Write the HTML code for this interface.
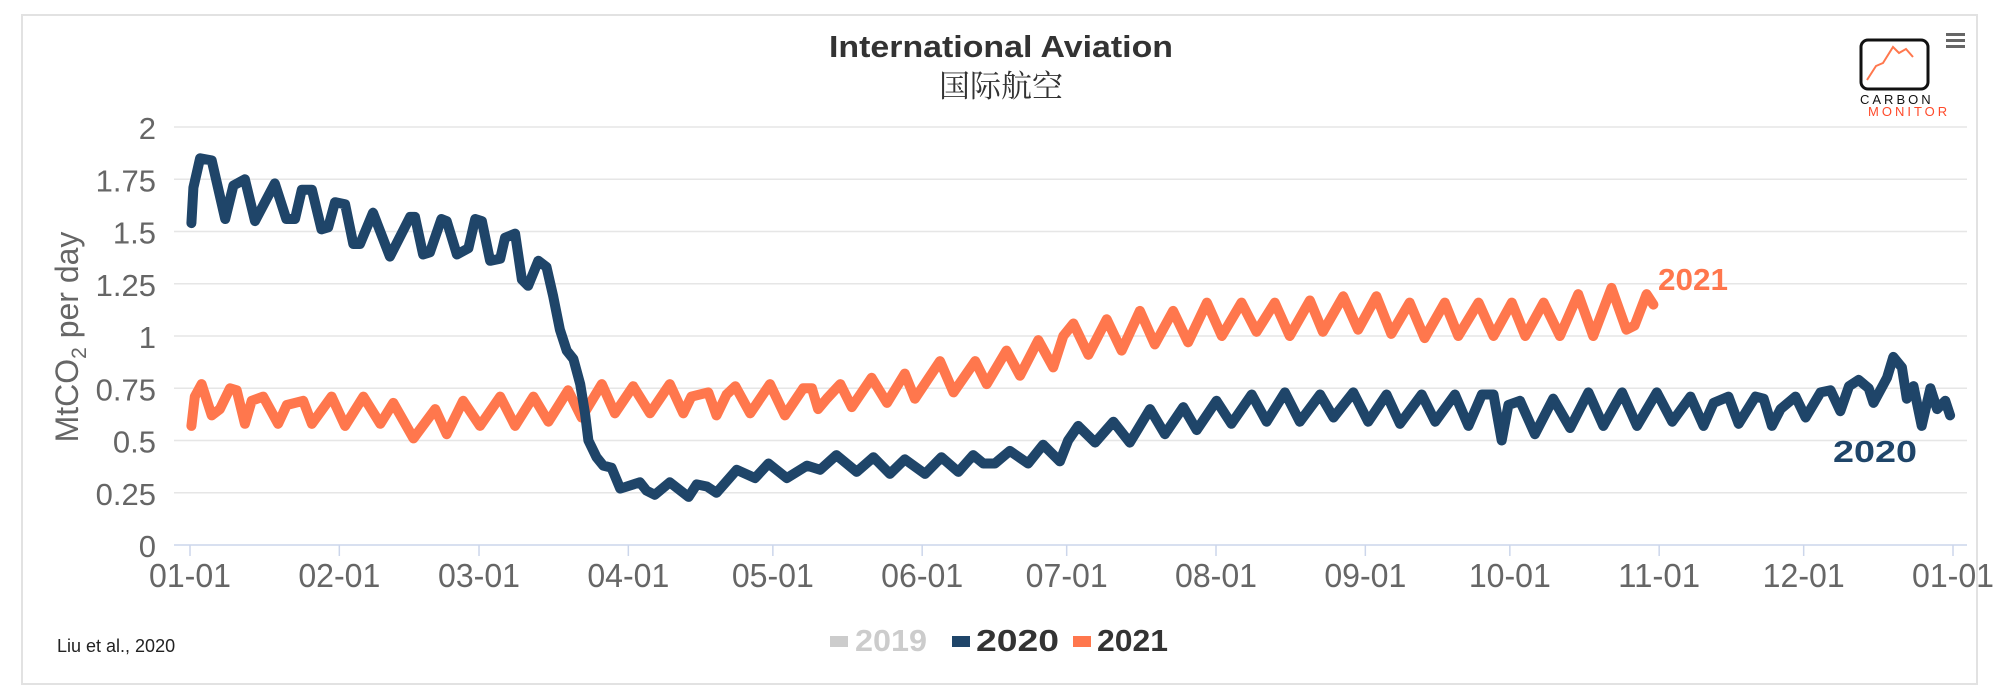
<!DOCTYPE html>
<html><head><meta charset="utf-8">
<style>
html,body{margin:0;padding:0;background:#fff;}
svg{display:block;font-family:"Liberation Sans","Noto Sans CJK SC",sans-serif;}
</style></head>
<body>
<svg id="chart" width="2000" height="698" viewBox="0 0 2000 698">
  <rect x="22" y="15" width="1955" height="669" fill="#fff" stroke="#e2e2e2" stroke-width="2"/>
  <text x="1001" y="57" text-anchor="middle" font-size="31" font-weight="bold" fill="#333" textLength="344" lengthAdjust="spacingAndGlyphs">International Aviation</text>
  <text x="1001" y="97" text-anchor="middle" font-size="31" fill="#333" font-family="'Noto Serif CJK SC','Noto Sans CJK SC',serif">国际航空</text>
  <g id="grid"></g>
  <g id="yticks"></g>
  <g id="xaxis"></g>
  <text transform="translate(78,337) rotate(-90)" text-anchor="middle" font-size="32" fill="#666">MtCO<tspan font-size="21" dy="8">2</tspan><tspan dy="-8"> per day</tspan></text>
  <g id="series"></g>
  <text x="1658" y="290" font-size="31" font-weight="bold" fill="#ff774d" textLength="70" lengthAdjust="spacingAndGlyphs">2021</text>
  <text x="1833" y="462" font-size="31" font-weight="bold" fill="#1f4569" textLength="84" lengthAdjust="spacingAndGlyphs">2020</text>
  <text x="57" y="652" font-size="18" fill="#222">Liu et al., 2020</text>
  <g>
    <g>
      <rect x="830" y="636" width="18" height="11" fill="#cccccc"/>
      <text x="855" y="651" font-size="31" font-weight="bold" fill="#cccccc" textLength="72" lengthAdjust="spacingAndGlyphs">2019</text>
    </g>
    <g>
      <rect x="952" y="636" width="18" height="11" fill="#1f4569"/>
      <text x="976" y="651" font-size="31" font-weight="bold" fill="#333" textLength="83" lengthAdjust="spacingAndGlyphs">2020</text>
    </g>
    <g>
      <rect x="1073" y="636" width="18" height="11" fill="#ff774d"/>
      <text x="1097" y="651" font-size="31" font-weight="bold" fill="#333" textLength="71" lengthAdjust="spacingAndGlyphs">2021</text>
    </g>
  </g>
  <g>
    <rect x="1861" y="40" width="67" height="49" rx="7" fill="#fff" stroke="#111" stroke-width="3"/>
    <polyline points="1867,80 1876,66 1883,63 1893,47 1899,53 1906,49 1913,57" fill="none" stroke="#ff774d" stroke-width="2"/>
    <text x="1860" y="104" font-size="13" fill="#111" letter-spacing="3">CARBON</text>
    <text x="1868" y="116" font-size="13" fill="#ff4a2a" letter-spacing="3">MONITOR</text>
  </g>
  <g>
    <rect x="1946" y="33" width="19" height="3" fill="#666"/>
    <rect x="1946" y="39" width="19" height="3" fill="#666"/>
    <rect x="1946" y="45" width="19" height="3" fill="#666"/>
  </g>
</svg>
<script>
const yTicks = [0, 0.25, 0.5, 0.75, 1, 1.25, 1.5, 1.75, 2];
const yTickLabels = ["0", "0.25", "0.5", "0.75", "1", "1.25", "1.5", "1.75", "2"];
const monthDays = [0, 31, 60, 91, 121, 152, 182, 213, 244, 274, 305, 335, 366];
const monthLabels = ["01-01","02-01","03-01","04-01","05-01","06-01","07-01","08-01","09-01","10-01","11-01","12-01","01-01"];
const days2020 = [0.3,0.7,2.1,4.5,7.3,9,11.4,13.5,17.6,20,21.8,23.2,25.3,27.3,28.7,30.1,32.2,33.9,35.3,38,41.5,45.7,46.7,48.4,49.8,52.2,53.3,55.4,57.8,59.2,60.6,62.3,64.4,65.4,67.5,68.9,70.2,72.3,74,75.4,76.8,78.2,79.6,81,82,82.7,84.4,85.8,87.5,89.3,90.7,93.4,94.8,96.5,99.6,103.5,105.2,107.3,109.3,113.5,117.3,120.1,123.9,128.1,130.8,134.2,138.4,141.9,145.3,148.4,152.6,156,159.5,162.6,164.7,167.1,170.2,174,177.1,180.6,182.3,184.4,187.9,191.7,195.1,199.3,202.4,206.2,209,213.1,216.2,220.4,223.5,227.3,230.4,234.6,237.4,241.5,244.6,248.4,251.2,255.7,258.5,262.6,265.4,268.2,270.6,272.3,273.7,276.1,279.2,283,286.5,290.3,293.4,297.3,300.4,304.5,307.7,311.5,314.2,316.3,319.4,321.5,325,326.7,328.4,330.2,333.3,335.4,338.5,340.6,342.6,344.4,346.4,348.5,349.5,352.3,353.6,355.4,356.4,357.8,359.5,361.3,362.7,364.4,365.4];
const vals2020 = [1.54,1.71,1.85,1.84,1.56,1.72,1.75,1.55,1.73,1.56,1.56,1.70,1.70,1.51,1.52,1.64,1.63,1.44,1.44,1.59,1.38,1.57,1.57,1.39,1.40,1.56,1.55,1.39,1.42,1.56,1.55,1.36,1.37,1.47,1.49,1.27,1.24,1.36,1.33,1.19,1.03,0.93,0.89,0.77,0.63,0.50,0.42,0.38,0.37,0.27,0.28,0.30,0.26,0.24,0.30,0.23,0.29,0.28,0.25,0.36,0.32,0.39,0.32,0.38,0.36,0.43,0.35,0.42,0.34,0.41,0.34,0.42,0.35,0.43,0.39,0.39,0.45,0.39,0.48,0.40,0.50,0.57,0.49,0.59,0.49,0.65,0.53,0.66,0.55,0.69,0.58,0.72,0.59,0.73,0.59,0.72,0.61,0.73,0.59,0.72,0.58,0.72,0.59,0.72,0.57,0.72,0.72,0.50,0.67,0.69,0.53,0.70,0.56,0.73,0.57,0.73,0.57,0.73,0.59,0.71,0.57,0.68,0.71,0.58,0.71,0.70,0.57,0.65,0.71,0.61,0.73,0.74,0.64,0.76,0.79,0.75,0.68,0.80,0.90,0.85,0.70,0.76,0.57,0.75,0.65,0.69,0.62];
const days2021 = [0.3,1,2.4,4.5,6.2,8.3,9.7,11.4,12.8,15.2,18.3,20.1,23.5,25.3,29.4,32.2,36,39.5,42.2,46.4,50.9,53.3,56.7,60.2,64.4,67.5,71.3,74.4,78.5,81.3,85.5,88.2,92,95.5,99.6,102.4,104.1,107.6,109.3,111.4,113.2,116.3,120.4,123.5,127.3,129.1,130.4,132.2,135,137.4,141.5,144.7,148.4,150.5,155.7,158.5,163,165.4,169.5,172.3,176.1,179.2,181.3,183.4,186.5,190.3,193.4,197.2,200.3,204.1,207.2,211.1,214.2,218.3,221.4,225.2,228.3,232.5,235.2,239.4,242.5,246.3,249.4,253.2,256.3,260.5,263.3,267.5,270.6,274.4,277.2,281,284.4,288.2,291.3,295.1,298.2,299.9,302.4,303.8];
const vals2021 = [0.57,0.71,0.77,0.62,0.65,0.75,0.74,0.58,0.69,0.71,0.58,0.67,0.69,0.58,0.71,0.57,0.71,0.58,0.68,0.51,0.65,0.53,0.69,0.57,0.71,0.57,0.71,0.59,0.74,0.61,0.77,0.63,0.76,0.63,0.77,0.63,0.71,0.73,0.62,0.72,0.76,0.63,0.77,0.62,0.75,0.75,0.65,0.70,0.77,0.66,0.80,0.68,0.82,0.70,0.88,0.73,0.88,0.77,0.93,0.81,0.98,0.85,1.00,1.06,0.91,1.08,0.93,1.12,0.96,1.12,0.97,1.16,1.00,1.16,1.02,1.16,1.00,1.17,1.02,1.19,1.03,1.19,1.01,1.16,0.99,1.16,1.00,1.16,1.00,1.16,1.00,1.16,1.00,1.20,1.00,1.23,1.03,1.05,1.20,1.15];

const NS = "http://www.w3.org/2000/svg";
const X0 = 190, X1 = 1953, Y0 = 545, YTOP = 127, DAYS = 366, YMAX = 2;
function xScale(d){ return X0 + d * (X1 - X0) / DAYS; }
function yScale(v){ return Y0 - v * (Y0 - YTOP) / YMAX; }

const grid = document.getElementById('grid');
const yt = document.getElementById('yticks');
yTicks.forEach((t, i) => {
  if (t > 0) {
    const l = document.createElementNS(NS, 'line');
    l.setAttribute('x1', 174); l.setAttribute('x2', 1967);
    l.setAttribute('y1', yScale(t)); l.setAttribute('y2', yScale(t));
    l.setAttribute('stroke', '#e6e6e6'); l.setAttribute('stroke-width', '1.5');
    
    
    grid.appendChild(l);
  }
  const tx = document.createElementNS(NS, 'text');
  tx.setAttribute('x', 156); tx.setAttribute('y', yScale(t) + 12);
  tx.setAttribute('text-anchor', 'end'); tx.setAttribute('font-size', '31');
  tx.setAttribute('fill', '#666');
  tx.textContent = yTickLabels[i];
  
  
  yt.appendChild(tx);
});

const xa = document.getElementById('xaxis');
const axis = document.createElementNS(NS, 'line');
axis.setAttribute('x1', 174); axis.setAttribute('x2', 1967);
axis.setAttribute('y1', Y0); axis.setAttribute('y2', Y0);
axis.setAttribute('stroke', '#ccd6eb'); axis.setAttribute('stroke-width', '1.5');


xa.appendChild(axis);
monthDays.forEach((d, i) => {
  const tk = document.createElementNS(NS, 'line');
  tk.setAttribute('x1', xScale(d)); tk.setAttribute('x2', xScale(d));
  tk.setAttribute('y1', Y0); tk.setAttribute('y2', Y0 + 11);
  tk.setAttribute('stroke', '#ccd6eb'); tk.setAttribute('stroke-width', '1.5');
  
  
  xa.appendChild(tk);
  const tx = document.createElementNS(NS, 'text');
  tx.setAttribute('x', xScale(d)); tx.setAttribute('y', 587);
  tx.setAttribute('text-anchor', 'middle'); tx.setAttribute('font-size', '33');
  tx.setAttribute('fill', '#666');
  tx.setAttribute('textLength', '82'); tx.setAttribute('lengthAdjust', 'spacingAndGlyphs');
  tx.textContent = monthLabels[i];
  
  
  xa.appendChild(tx);
});

const series = document.getElementById('series');
function drawLine(days, vals, color, name){
  const p = document.createElementNS(NS, 'polyline');
  p.setAttribute('points', days.map((d, i) => xScale(d).toFixed(1) + ',' + yScale(vals[i]).toFixed(1)).join(' '));
  p.setAttribute('fill', 'none'); p.setAttribute('stroke', color);
  p.setAttribute('stroke-width', '10'); p.setAttribute('stroke-linejoin', 'round'); p.setAttribute('stroke-linecap', 'round');
  
  
  series.appendChild(p);
}
drawLine(days2021, vals2021, '#ff774d', 'line-2021');
drawLine(days2020, vals2020, '#1f4569', 'line-2020');
</script>
</body></html>
